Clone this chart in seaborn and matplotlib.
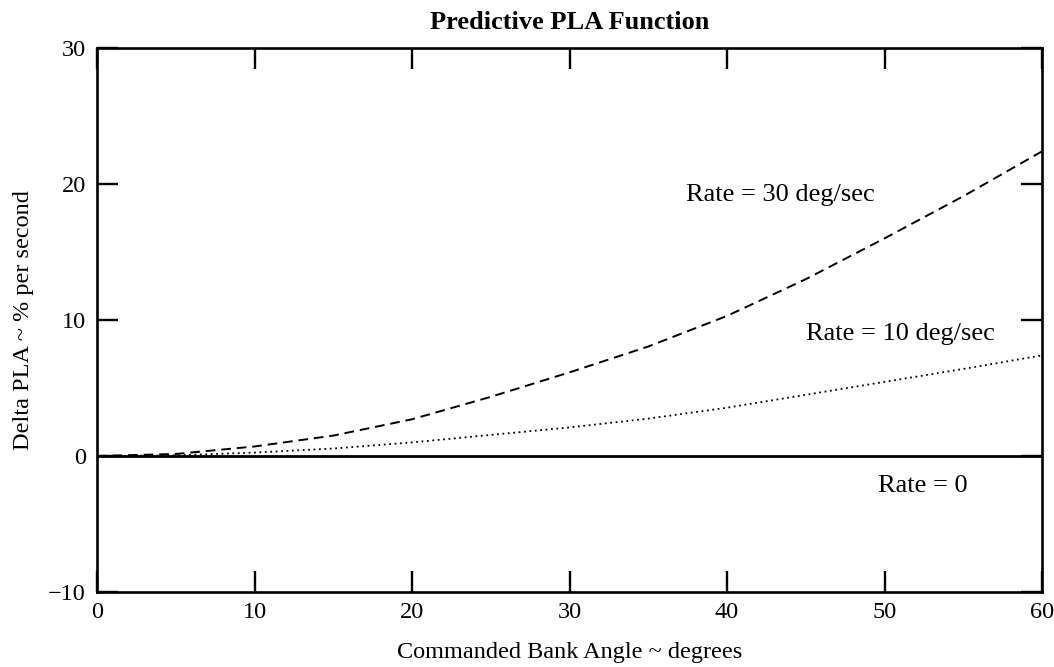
import numpy as np
import pandas as pd
import matplotlib
matplotlib.use("Agg")
import matplotlib.pyplot as plt
import seaborn as sns

# Data
bank_angle = [0, 5, 10, 15, 20, 25, 30, 35, 40, 45, 50, 55, 60]
rate_30 = [0, 0.15, 0.7, 1.5, 2.7, 4.35, 6.15, 8.05, 10.3, 13.0, 16.0, 19.1, 22.4]
rate_10 = [0, 0.05, 0.25, 0.55, 1.0, 1.55, 2.1, 2.75, 3.55, 4.5, 5.45, 6.4, 7.4]
rate_0 = [0, 0, 0, 0, 0, 0, 0, 0, 0, 0, 0, 0, 0]

x_ticks = [0, 10, 20, 30, 40, 50, 60]
y_ticks = [-10, 0, 10, 20, 30]

title = "Predictive PLA Function"
x_label = "Commanded Bank Angle ~ degrees"
y_label = "Delta PLA ~ % per second"
annotations = [("Rate = 30 deg/sec", 37.4, 19.2),
               ("Rate = 10 deg/sec", 45.0, 9.0),
               ("Rate = 0", 49.6, -2.2)]

sns.set_theme(style="white")
plt.rcParams['font.family'] = ['Liberation Serif', 'DejaVu Serif']

fig = plt.figure(figsize=(10.54, 6.67), dpi=100)
ax = fig.add_axes([97/1054, 1-592/667, (1042-97)/1054, (592-48)/667])

df = pd.DataFrame({"angle": bank_angle, "r30": rate_30, "r10": rate_10, "r0": rate_0})
sns.lineplot(data=df, x="angle", y="r30", ax=ax, color="black", linewidth=1.4)
ax.lines[-1].set_dashes((5, 3))
sns.lineplot(data=df, x="angle", y="r10", ax=ax, color="black", linewidth=1.3)
ax.lines[-1].set_dashes((1, 2))
sns.lineplot(data=df, x="angle", y="r0", ax=ax, color="black", linewidth=2.0)

ax.set_xlim(0, 60)
ax.set_ylim(-10, 30)
ax.set_xticks(x_ticks)
ax.set_yticks(y_ticks)
ax.tick_params(axis="both", direction="in", length=15, width=1.7, labelsize=17.5,
               top=True, right=True, bottom=True, left=True, color="black",
               labelcolor="black")
ax.tick_params(axis="x", pad=7)
ax.tick_params(axis="y", pad=8)
for spine in ax.spines.values():
    spine.set_visible(True)
    spine.set_color("black")
    spine.set_linewidth(1.9)

ax.set_xlabel(x_label, fontsize=17.5, color="black", labelpad=14)
ax.set_ylabel(y_label, fontsize=17.5, color="black", labelpad=10)
ax.set_title(title, fontsize=19, fontweight="bold", color="black", pad=14)

for txt, xx, yy in annotations:
    ax.text(xx, yy, txt, fontsize=19, color="black", va="center", ha="left")

fig.savefig("out.png", dpi=100)
